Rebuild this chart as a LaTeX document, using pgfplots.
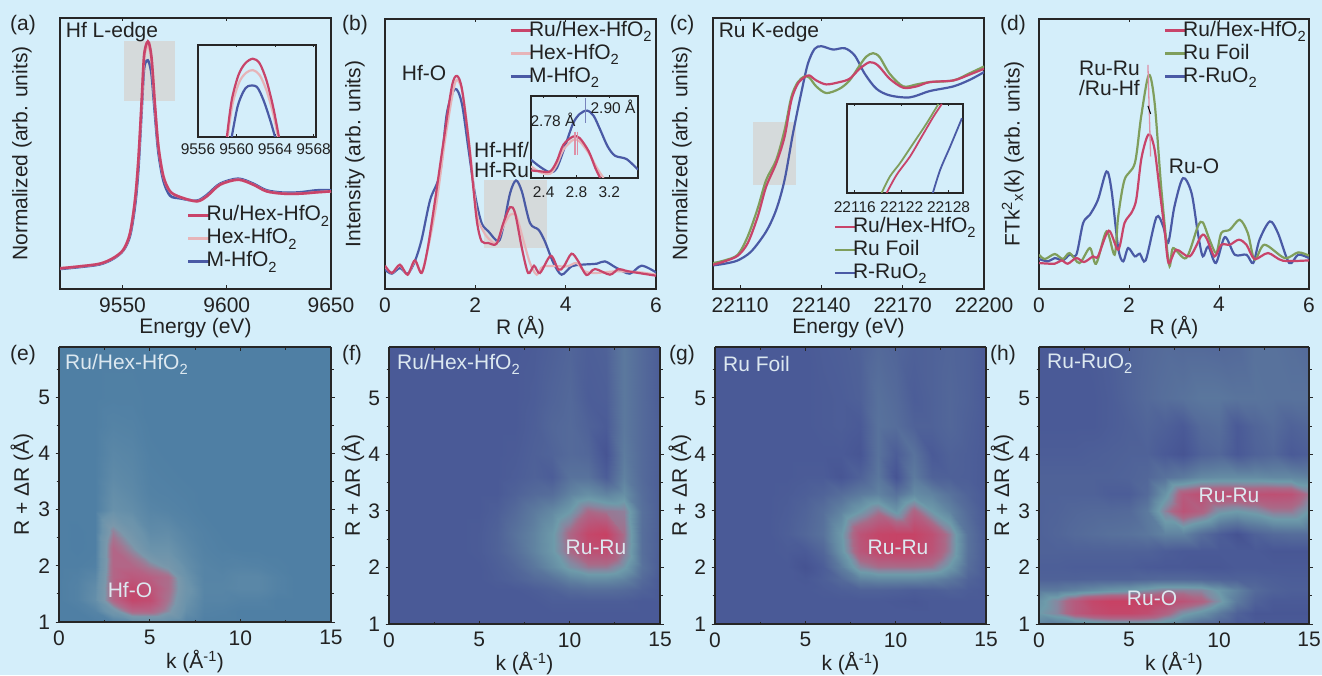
\documentclass[border=0pt]{standalone}
\usepackage{fontspec}
\setmainfont{Liberation Sans}
\usepackage{pgfplots}
\pgfplotsset{compat=1.18}
\definecolor{bg}{HTML}{D4EEFA}
\definecolor{fr}{HTML}{262626}
\definecolor{cred}{HTML}{C8446A}
\definecolor{cpink}{HTML}{E6B4B8}
\definecolor{cblue}{HTML}{4A5AA5}
\definecolor{cgreen}{HTML}{7F9E5C}
\definecolor{gbox}{HTML}{D5DADB}
\definecolor{txt}{HTML}{222222}
\definecolor{lt}{HTML}{DCE8F0}
\newcommand\fa{\fontsize{21}{24}\selectfont}
\newcommand\fb{\fontsize{15.5}{18}\selectfont}
\newcommand\sub[1]{\raisebox{-2pt}{\textsubscript{#1}}}
\pgfplotsset{
  colormap={hb}{rgb255(0)=(65,76,141) rgb255(1)=(74,90,151) rgb255(2)=(84,106,154) rgb255(3)=(92,122,158) rgb255(4)=(101,140,164) rgb255(5)=(110,155,170) rgb255(6)=(135,135,160) rgb255(7)=(170,105,135) rgb255(8)=(182,90,125) rgb255(10)=(200,65,100)},
  colormap={he}{rgb255(0)=(74,123,162) rgb255(1)=(79,127,164) rgb255(3)=(107,147,171) rgb255(5)=(122,152,171) rgb255(6.5)=(165,116,144) rgb255(8)=(184,95,130) rgb255(10)=(195,71,108)},
}
\pgfplotsset{
  allax/.style={scale only axis,enlargelimits=false,
    axis line style={line width=2.2pt,color=fr},
    tick style={line width=1pt,color=fr},
    major tick length=3.5pt,minor tick length=2.5pt,
    /pgf/number format/assume math mode=true,
    /pgf/number format/1000 sep={},
    scaled x ticks=false,scaled y ticks=false,
    tick label style={font=\fa,color=txt},
    label style={font=\fa,color=txt}},
  lineax/.style={allax,ymin=0,ytick=\empty,xtick align=inside,
    xticklabel style={yshift=-5pt},
    xlabel style={at={(axis description cs:0.5,0)},anchor=center,yshift=-39pt},
    legend cell align=left,reverse legend,
    legend image code/.code={\begin{pgfinterruptboundingbox}\draw[##1,line width=2.2pt] (4pt,0) -- (25pt,0);\end{pgfinterruptboundingbox}\path (0,0) (21pt,0);},
    legend style={draw=none,fill=none,font=\fa,text=txt,anchor=north west,inner sep=0pt,outer sep=0pt,
      nodes={inner sep=0pt,text height=17pt,text depth=6pt}}},
  inset/.style={allax,ymin=0,ytick=\empty,xtick align=inside,axis background/.style={fill=bg},
    tick label style={font=\fb,color=txt},major tick length=2.5pt,
    axis line style={line width=1.8pt,color=fr}},
  c1/.style={color=cred,line width=2.2pt,smooth},
  c2/.style={color=cpink,line width=2.2pt,smooth},
  c3/.style={color=cblue,line width=2.2pt,smooth},
  c4/.style={color=cgreen,line width=2.2pt,smooth},
  heat/.style={allax,view={0}{90},axis on top,xmin=0,xmax=15,ymin=1,ymax=5.9,
    xtick={0,5,10,15},ytick={1,2,3,4,5},minor xtick={2.5,7.5,12.5},minor ytick={1.5,2.5,3.5,4.5,5.5},
    xtick align=inside,ytick align=outside,
    xticklabel style={yshift=-5pt},yticklabel style={xshift=-2pt},
    xlabel={k (Å\textsuperscript{-1})},ylabel={R + ΔR (Å)},
    xlabel style={at={(axis description cs:0.5,0)},anchor=center,yshift=-40pt},
    point meta min=0,point meta max=10},
}
\newcommand\lbl[4][center]{\node[anchor=#1,inner sep=0pt,font=\fa,text=txt] at (#2pt,675pt-#3pt) {#4};}
\newcommand\lbs[3]{\node[anchor=center,inner sep=0pt,font=\fb,text=txt] at (#1pt,675pt-#2pt) {#3};}
\newcommand\lbw[4][center]{\node[anchor=#1,inner sep=0pt,font=\fa,text=lt] at (#2pt,675pt-#3pt) {#4};}
\begin{document}
\begin{tikzpicture}
\useasboundingbox (0,0) rectangle (1322pt,675pt);
\fill[bg] (0,0) rectangle (1322pt,675pt);

% (a)
\begin{axis}[lineax,at={(60pt,386pt)},anchor=south west,width=271pt,height=271pt,
  xmin=9520,xmax=9650,ymax=813,xtick={9550,9600,9650},xlabel={Energy (eV)},ylabel={Normalized (arb. units)},
  ylabel style={at={(axis description cs:0,0.5)},anchor=center,yshift=38pt},
  legend style={at={(axis description cs:0.454,0.314)}}]
\fill[gbox] (axis cs:9550.9,565) rectangle (axis cs:9575.2,745);
\addplot[c3,line width=2.6pt] coordinates {(9520,60)(9529.6,66)(9539.2,74)(9545.6,91)(9550.4,116)(9553.6,160)(9556,250)(9557.6,360)(9559.2,540)(9560.3,660)(9561.6,685)(9562.7,680)(9564,640)(9565.6,520)(9567.2,410)(9569.6,325)(9572.8,280)(9577.6,272)(9585.6,265)(9590.4,282)(9596.8,316)(9605.5,331)(9612.7,316)(9619.1,296)(9627.1,289)(9635.1,290)(9643.1,296)(9650,296)};
\addlegendentry{M-HfO\sub{2}}
\addplot[c2,line width=2.6pt] coordinates {(9520,62)(9529.6,68)(9539.2,76)(9545.6,93)(9550.4,118)(9553.6,168)(9556,268)(9557.6,388)(9559.2,560)(9560.3,690)(9561.6,725)(9562.7,725)(9564,680)(9565.6,545)(9567.2,428)(9569.6,338)(9572.8,293)(9577.6,276)(9585.6,263)(9590.4,278)(9596.8,313)(9605.5,328)(9612.7,313)(9619.1,293)(9627.1,286)(9635.1,286)(9643.1,290)(9650,293)};
\addlegendentry{Hex-HfO\sub{2}}
\addplot[c1,line width=2.6pt] coordinates {(9520,62)(9529.6,68)(9539.2,76)(9545.6,93)(9550.4,118)(9553.6,168)(9556,268)(9557.6,388)(9559.2,568)(9560.3,698)(9561.6,738)(9562.7,738)(9564,688)(9565.6,548)(9567.2,428)(9569.6,338)(9572.8,293)(9577.6,276)(9585.6,263)(9590.4,278)(9596.8,313)(9605.5,328)(9612.7,313)(9619.1,293)(9627.1,286)(9635.1,286)(9643.1,290)(9650,293)};
\addlegendentry{Ru/Hex-HfO\sub{2}}
\end{axis}
\begin{axis}[inset,at={(198pt,538pt)},anchor=south west,width=118pt,height=92pt,
  xmin=9556,xmax=9568.25,ymax=275,xtick={9556,9560,9564,9568},xticklabel style={yshift=-3pt}]
\addplot[c2] coordinates {(9559.08,0)(9559.6,100)(9560.3,165)(9561,192)(9561.7,200)(9562.4,185)(9563.1,140)(9563.8,70)(9564.3,0)};
\addplot[c3] coordinates {(9559.5,0)(9560.1,90)(9560.7,135)(9561.2,152)(9562.1,150)(9562.8,110)(9563.5,50)(9564,0)};
\addplot[c1] coordinates {(9559,0)(9559.5,110)(9560.2,185)(9560.9,220)(9561.7,234)(9562.4,220)(9563.1,170)(9563.8,90)(9564.4,0)};
\end{axis}

% (b)
\begin{axis}[lineax,at={(385pt,386pt)},anchor=south west,width=271pt,height=270pt,
  xmin=0,xmax=6,ymax=811,xtick={0,2,4,6},xlabel={R (Å)},ylabel={Intensity (arb. units)},
  ylabel style={at={(axis description cs:0,0.5)},anchor=center,yshift=30pt},
  legend style={at={(axis description cs:0.446,1.0)}}]
\fill[gbox] (axis cs:2.2,122) rectangle (axis cs:3.58,327);
\addplot[c3] coordinates {(0,58)(.15,46)(.33,63)(.50,46)(.66,83)(.81,148)(1.0,268)(1.22,348)(1.37,528)(1.55,601)(1.70,558)(1.85,418)(2.0,278)(2.14,198)(2.29,173)(2.51,143)(2.62,188)(2.77,288)(2.90,326)(3.03,293)(3.21,198)(3.40,178)(3.54,143)(3.73,78)(3.91,43)(4.13,68)(4.35,73)(4.69,76)(4.87,83)(5.13,63)(5.42,46)(5.68,70)(6,50)};
\addlegendentry{M-HfO\sub{2}}
\addplot[c2] coordinates {(0,68)(.15,48)(.33,71)(.50,43)(.66,83)(.81,50)(.96,128)(1.14,258)(1.33,448)(1.50,588)(1.59,628)(1.72,588)(1.88,418)(2.03,228)(2.18,173)(2.32,148)(2.47,138)(2.62,188)(2.77,223)(2.91,218)(3.06,148)(3.21,78)(3.36,43)(3.51,68)(4.02,68)(4.24,78)(4.42,53)(4.65,48)(5.13,53)(5.65,50)(6,43)};
\addlegendentry{Hex-HfO\sub{2}}
\addplot[c1] coordinates {(0,70)(.15,48)(.33,73)(.50,43)(.66,86)(.81,48)(.94,118)(1.11,268)(1.29,438)(1.48,608)(1.59,640)(1.70,603)(1.85,448)(1.96,298)(2.04,198)(2.14,143)(2.29,138)(2.47,136)(2.62,198)(2.77,246)(2.88,228)(3.03,123)(3.17,48)(3.30,70)(3.43,48)(3.67,100)(3.84,58)(3.96,68)(4.13,106)(4.28,83)(4.46,42)(4.65,60)(4.98,43)(5.17,60)(5.39,53)(6,40)};
\addlegendentry{Ru/Hex-HfO\sub{2}}
\end{axis}
\begin{axis}[inset,at={(531pt,497pt)},anchor=south west,width=107pt,height=82pt,
  xmin=2.246,xmax=3.55,ymax=247,xtick={2.4,2.8,3.2},xticklabels={2.4,2.8,3.2},xticklabel style={yshift=-5pt}]
\addplot[c3] coordinates {(2.246,55)(2.36,33)(2.48,17)(2.56,30)(2.66,95)(2.76,165)(2.84,193)(2.93,203)(3.01,187)(3.09,145)(3.18,95)(3.27,67)(3.41,57)(3.55,25)};
\addplot[c2] coordinates {(2.246,35)(2.36,17)(2.48,13)(2.56,40)(2.64,85)(2.76,115)(2.84,110)(2.95,75)(3.05,30)(3.13,0)};
\addplot[c1] coordinates {(2.246,23)(2.36,20)(2.48,20)(2.56,50)(2.64,100)(2.76,125)(2.84,120)(2.95,80)(3.03,30)(3.09,0)};
\addplot[color=cblue!75,line width=1.4pt] coordinates {(2.91,240)(2.91,165)};
\addplot[color=cred!60,line width=1.4pt] coordinates {(2.78,140)(2.78,70)};
\addplot[color=cred!60,line width=1.4pt] coordinates {(2.81,140)(2.81,70)};
\end{axis}

% (c)
\begin{axis}[lineax,at={(713pt,386pt)},anchor=south west,width=271pt,height=271pt,
  xmin=22100,xmax=22200,ymax=816,xtick={22110,22140,22170,22200},xlabel={Energy (eV)},ylabel={Normalized (arb. units)},
  ylabel style={at={(axis description cs:0,0.5)},anchor=center,yshift=31pt},
  legend style={at={(axis description cs:0.431,0.271)}}]
\fill[gbox] (axis cs:22114.7,313) rectangle (axis cs:22130.7,503);
\addplot[c3] coordinates {(22100,71)(22104.2,76)(22109.1,86)(22114.1,113)(22119.6,173)(22123.3,238)(22126.4,328)(22129.5,468)(22132.5,588)(22135,678)(22137.5,723)(22140,731)(22144.3,721)(22148.6,725)(22152.3,703)(22156,648)(22160.3,603)(22165.2,583)(22172.6,577)(22180,596)(22188.7,610)(22194.8,630)(22200,653)};
\addlegendentry{R-RuO\sub{2}}
\addplot[c4] coordinates {(22100,78)(22104.2,86)(22109.1,103)(22112.8,158)(22116.5,243)(22119.6,328)(22123.3,388)(22126.4,478)(22128.9,578)(22131.3,623)(22133.8,640)(22135.6,636)(22138.1,610)(22141.8,590)(22146.7,603)(22150.4,628)(22154.1,673)(22156.6,700)(22159.1,710)(22161.5,698)(22165.2,648)(22170.2,610)(22175.1,616)(22180,623)(22188.7,628)(22194.8,650)(22200,670)};
\addlegendentry{Ru Foil}
\addplot[c1] coordinates {(22100,73)(22104.2,83)(22109.1,100)(22112.8,138)(22116.5,218)(22119.6,308)(22123.3,378)(22126.4,458)(22128.9,568)(22131.3,618)(22133.8,638)(22135.6,643)(22138.1,628)(22141.8,616)(22146.7,623)(22150.4,633)(22154.1,663)(22157.8,683)(22160.9,673)(22165.2,633)(22170.2,606)(22175.1,610)(22180,623)(22188.7,628)(22194.8,646)(22200,663)};
\addlegendentry{Ru/Hex-HfO\sub{2}}
\end{axis}
\begin{axis}[inset,at={(847pt,482pt)},anchor=south west,width=116pt,height=89pt,
  xmin=22115,xmax=22129.85,ymax=268,xtick={22116,22122,22128},xticklabel style={yshift=-5pt}]
\addplot[c4,line width=1.8pt] coordinates {(22119.43,0)(22120.5,50)(22121.79,90)(22123.5,150)(22125.2,210)(22126.7,268)};
\addplot[c1,line width=1.8pt] coordinates {(22120.07,0)(22121.36,55)(22123.07,110)(22124.57,170)(22126.07,230)(22127.14,268)};
\addplot[c3,line width=1.8pt] coordinates {(22125.99,0)(22126.93,70)(22128.21,140)(22129.71,225)};
\end{axis}

% (d)
\begin{axis}[lineax,at={(1039pt,386pt)},anchor=south west,width=270pt,height=270pt,
  xmin=0,xmax=6,ymax=811,xtick={0,2,4,6},xlabel={R (Å)},ylabel={FTk\textsuperscript{2}\textsubscript{x}(k) (arb. units)},
  ylabel style={at={(axis description cs:0,0.5)},anchor=center,yshift=26pt},
  legend style={at={(axis description cs:0.448,1.0)}}]
\addplot[c3] coordinates {(0,90)(.2,83)(.35,93)(.53,86)(.68,103)(.83,103)(.98,198)(1.13,223)(1.31,268)(1.50,353)(1.61,298)(1.76,123)(1.87,83)(1.98,123)(2.13,98)(2.24,106)(2.37,86)(2.61,216)(2.76,188)(2.87,138)(3.01,248)(3.20,333)(3.39,288)(3.53,168)(3.64,98)(3.76,128)(3.93,78)(4.13,156)(4.35,103)(4.61,103)(4.76,78)(4.90,148)(5.13,203)(5.31,168)(5.56,78)(5.76,103)(6,93)};
\addlegendentry{R-RuO\sub{2}}
\addplot[c4] coordinates {(0,103)(.13,90)(.35,105)(.53,90)(.68,108)(.90,78)(1.13,123)(1.27,76)(1.50,173)(1.68,103)(1.76,218)(1.90,328)(2.13,378)(2.27,518)(2.44,643)(2.57,558)(2.72,298)(2.89,73)(2.98,123)(3.27,93)(3.53,188)(3.64,200)(3.79,148)(3.94,108)(4.05,168)(4.24,178)(4.46,208)(4.64,168)(4.79,88)(5.01,133)(5.46,93)(5.76,110)(6,100)};
\addlegendentry{Ru Foil}
\addplot[c1] coordinates {(0,78)(.35,76)(.50,86)(.64,76)(.83,93)(1.0,81)(1.2,98)(1.31,98)(1.55,175)(1.76,118)(1.90,198)(2.05,228)(2.16,268)(2.27,388)(2.39,453)(2.47,463)(2.57,418)(2.68,298)(2.79,178)(2.88,78)(3.05,118)(3.35,98)(3.61,160)(3.72,153)(3.90,98)(4.05,133)(4.24,133)(4.44,148)(4.61,133)(4.79,90)(5.09,108)(5.42,85)(6,86)};
\addlegendentry{Ru/Hex-HfO\sub{2}}
\addplot[color=cred!60,line width=1.3pt,forget plot] coordinates {(2.42,673)(2.48,398)};
\addplot[color=black,line width=1pt,forget plot] coordinates {(2.42,550)(2.48,526)};
\end{axis}

% (e)
\begin{axis}[heat,colormap name=he,at={(59pt,53pt)},anchor=south west,width=272pt,height=275pt,
  ylabel style={at={(axis description cs:0,0.5)},anchor=center,yshift=37pt}]
\addplot3[surf,shader=interp,mesh/cols=16] coordinates {
(0,1,1)(1,1,1)(2,1,1)(3,1,1.2)(4,1,2)(5,1,2.3)(6,1,2)(7,1,1.5)(8,1,1)(9,1,1)(10,1,1)(11,1,1)(12,1,1)(13,1,1)(14,1,1)(15,1,1)
(0,1.2,1)(1,1.2,1)(2,1.2,1.5)(3,1.2,4)(4,1.2,7.5)(5,1.2,7.5)(6,1.2,5.5)(7,1.2,2.5)(8,1.2,1.3)(9,1.2,1.2)(10,1.2,1)(11,1.2,1)(12,1.2,1)(13,1.2,1)(14,1.2,1)(15,1.2,1)
(0,1.4,1)(1,1.4,1.3)(2,1.4,2.5)(3,1.4,7.5)(4,1.4,10)(5,1.4,9.5)(6,1.4,6.5)(7,1.4,3)(8,1.4,1.5)(9,1.4,1.5)(10,1.4,1.3)(11,1.4,1.3)(12,1.4,1)(13,1.4,1)(14,1.4,1)(15,1.4,1)
(0,1.6,1)(1,1.6,1.3)(2,1.6,2.3)(3,1.6,7.5)(4,1.6,9.8)(5,1.6,9)(6,1.6,7)(7,1.6,3.5)(8,1.6,1.6)(9,1.6,1.6)(10,1.6,1.8)(11,1.6,1.8)(12,1.6,1.3)(13,1.6,1)(14,1.6,1)(15,1.6,1)
(0,1.8,1)(1,1.8,1.2)(2,1.8,1.8)(3,1.8,7.5)(4,1.8,8.5)(5,1.8,8)(6,1.8,7)(7,1.8,3)(8,1.8,1.5)(9,1.8,1.5)(10,1.8,1.8)(11,1.8,1.8)(12,1.8,1.3)(13,1.8,1)(14,1.8,1)(15,1.8,1)
(0,2,1)(1,2,1)(2,2,1.2)(3,2,7.5)(4,2,7.5)(5,2,6)(6,2,4.5)(7,2,2.5)(8,2,1.5)(9,2,1.3)(10,2,1.4)(11,2,1.3)(12,2,1.1)(13,2,1)(14,2,1)(15,2,1)
(0,2.3,1)(1,2.3,.8)(2,2.3,1)(3,2.3,7.5)(4,2.3,5.5)(5,2.3,3)(6,2.3,3)(7,2.3,2)(8,2.3,1.3)(9,2.3,1.1)(10,2.3,1)(11,2.3,1)(12,2.3,1)(13,2.3,1)(14,2.3,1)(15,2.3,1)
(0,2.6,1)(1,2.6,.8)(2,2.6,1)(3,2.6,6)(4,2.6,3.8)(5,2.6,2.2)(6,2.6,2.3)(7,2.6,1.6)(8,2.6,1.2)(9,2.6,1)(10,2.6,1)(11,2.6,1)(12,2.6,1)(13,2.6,1)(14,2.6,1)(15,2.6,1)
(0,3,1)(1,3,1)(2,3,1)(3,3,2.8)(4,3,2.4)(5,3,1.6)(6,3,1.4)(7,3,1.2)(8,3,1)(9,3,1)(10,3,1)(11,3,1)(12,3,1)(13,3,1)(14,3,1)(15,3,1)
(0,3.3,1)(1,3.3,1)(2,3.3,1)(3,3.3,2.5)(4,3.3,2)(5,3.3,1.3)(6,3.3,1.2)(7,3.3,1.1)(8,3.3,1)(9,3.3,1)(10,3.3,1)(11,3.3,1)(12,3.3,1)(13,3.3,1)(14,3.3,1)(15,3.3,1)
(0,3.6,1)(1,3.6,1)(2,3.6,1)(3,3.6,2.1)(4,3.6,1.8)(5,3.6,1.2)(6,3.6,1.1)(7,3.6,1)(8,3.6,1)(9,3.6,1)(10,3.6,1)(11,3.6,1)(12,3.6,1)(13,3.6,1)(14,3.6,1)(15,3.6,1)
(0,4,1)(1,4,1)(2,4,1)(3,4,1.8)(4,4,1.6)(5,4,1.1)(6,4,1)(7,4,1)(8,4,1)(9,4,1)(10,4,1)(11,4,1)(12,4,1)(13,4,1)(14,4,1)(15,4,1)
(0,4.5,1)(1,4.5,1)(2,4.5,1)(3,4.5,1.4)(4,4.5,1.3)(5,4.5,1)(6,4.5,1)(7,4.5,1)(8,4.5,1)(9,4.5,1)(10,4.5,1)(11,4.5,1)(12,4.5,1)(13,4.5,1)(14,4.5,1)(15,4.5,1)
(0,5,1)(1,5,1)(2,5,1)(3,5,1.1)(4,5,1.1)(5,5,1)(6,5,1)(7,5,1)(8,5,1)(9,5,1)(10,5,1)(11,5,1)(12,5,1)(13,5,1)(14,5,1)(15,5,1)
(0,5.9,1)(1,5.9,1)(2,5.9,1)(3,5.9,1)(4,5.9,1)(5,5.9,1)(6,5.9,1)(7,5.9,1)(8,5.9,1)(9,5.9,1)(10,5.9,1)(11,5.9,1)(12,5.9,1)(13,5.9,1)(14,5.9,1)(15,5.9,1)
};
\end{axis}

% (f)
\begin{axis}[heat,colormap name=hb,at={(389pt,51pt)},anchor=south west,width=271pt,height=277pt,
  ylabel style={at={(axis description cs:0,0.5)},anchor=center,yshift=36pt}]
\addplot3[surf,shader=interp,mesh/cols=16] coordinates {
(0,1,1)(1,1,1)(2,1,1)(3,1,1)(4,1,1)(5,1,1)(6,1,1)(7,1,1)(8,1,1)(9,1,1)(10,1,1)(11,1,1)(12,1,1)(13,1,1)(14,1,1)(15,1,1)
(0,1.2,1)(1,1.2,1)(2,1.2,1)(3,1.2,1)(4,1.2,1)(5,1.2,1)(6,1.2,1)(7,1.2,1)(8,1.2,1)(9,1.2,1)(10,1.2,1)(11,1.2,1)(12,1.2,1)(13,1.2,1)(14,1.2,1)(15,1.2,1)
(0,1.4,1)(1,1.4,1)(2,1.4,1)(3,1.4,1)(4,1.4,1)(5,1.4,1)(6,1.4,1)(7,1.4,1)(8,1.4,1)(9,1.4,1.2)(10,1.4,1.2)(11,1.4,1.2)(12,1.4,1.2)(13,1.4,1.2)(14,1.4,1)(15,1.4,1)
(0,1.6,1)(1,1.6,1)(2,1.6,1)(3,1.6,1)(4,1.6,1)(5,1.6,1)(6,1.6,1)(7,1.6,1)(8,1.6,1.2)(9,1.6,1.5)(10,1.6,2)(11,1.6,2.2)(12,1.6,2.2)(13,1.6,2)(14,1.6,1.5)(15,1.6,1)
(0,1.8,1)(1,1.8,1)(2,1.8,1)(3,1.8,1)(4,1.8,1)(5,1.8,1)(6,1.8,1.2)(7,1.8,1.5)(8,1.8,2)(9,1.8,2.5)(10,1.8,3.5)(11,1.8,4)(12,1.8,4)(13,1.8,3.5)(14,1.8,2)(15,1.8,1)
(0,2,1)(1,2,1)(2,2,1)(3,2,1)(4,2,1)(5,2,1)(6,2,1.3)(7,2,1.8)(8,2,2.8)(9,2,4)(10,2,5.5)(11,2,6.5)(12,2,6.5)(13,2,5.2)(14,2,2.5)(15,2,1.2)
(0,2.3,1)(1,2.3,1)(2,2.3,1)(3,2.3,1)(4,2.3,1)(5,2.3,1.1)(6,2.3,1.5)(7,2.3,2.3)(8,2.3,3.5)(9,2.3,4.8)(10,2.3,7)(11,2.3,8.8)(12,2.3,9)(13,2.3,6.5)(14,2.3,2.3)(15,2.3,1.3)
(0,2.6,1)(1,2.6,1)(2,2.6,1)(3,2.6,1)(4,2.6,1)(5,2.6,1.1)(6,2.6,1.5)(7,2.6,2.5)(8,2.6,3.5)(9,2.6,4.8)(10,2.6,7.2)(11,2.6,9.5)(12,2.6,10)(13,2.6,6.8)(14,2.6,2.3)(15,2.6,1.3)
(0,3,1)(1,3,1)(2,3,1)(3,3,1)(4,3,1)(5,3,1)(6,3,1.3)(7,3,2)(8,3,3)(9,3,3.8)(10,3,5)(11,3,7)(12,3,6.5)(13,3,6.2)(14,3,2.4)(15,3,1.3)
(0,3.3,1)(1,3.3,1)(2,3.3,1)(3,3.3,1)(4,3.3,1)(5,3.3,1)(6,3.3,1)(7,3.3,1.5)(8,3.3,2)(9,3.3,2.2)(10,3.3,3.5)(11,3.3,4.2)(12,3.3,3.5)(13,3.3,4.2)(14,3.3,2.2)(15,3.3,1.3)
(0,3.6,1)(1,3.6,1)(2,3.6,1)(3,3.6,1)(4,3.6,1)(5,3.6,1)(6,3.6,1)(7,3.6,1.2)(8,3.6,1.5)(9,3.6,1.2)(10,3.6,2.5)(11,3.6,2.5)(12,3.6,1.2)(13,3.6,3.4)(14,3.6,2)(15,3.6,1.3)
(0,4,1)(1,4,1)(2,4,1)(3,4,1)(4,4,1)(5,4,1)(6,4,1)(7,4,1.1)(8,4,1.4)(9,4,1.6)(10,4,2)(11,4,1.8)(12,4,.6)(13,4,3.1)(14,4,2)(15,4,1.3)
(0,4.5,1)(1,4.5,1)(2,4.5,1)(3,4.5,1)(4,4.5,1)(5,4.5,1)(6,4.5,1)(7,4.5,1)(8,4.5,1.3)(9,4.5,1.8)(10,4.5,2)(11,4.5,1.5)(12,4.5,1.1)(13,4.5,2.9)(14,4.5,2)(15,4.5,1.3)
(0,5,1)(1,5,1)(2,5,1)(3,5,1)(4,5,1)(5,5,1)(6,5,1)(7,5,1)(8,5,1.2)(9,5,1.6)(10,5,1.9)(11,5,1.2)(12,5,1.3)(13,5,2.9)(14,5,2)(15,5,1.2)
(0,5.9,1)(1,5.9,1)(2,5.9,1)(3,5.9,1)(4,5.9,1)(5,5.9,1)(6,5.9,1)(7,5.9,1)(8,5.9,1.1)(9,5.9,1.4)(10,5.9,1.7)(11,5.9,1.3)(12,5.9,1.5)(13,5.9,2.9)(14,5.9,2)(15,5.9,1.2)
};
\end{axis}

% (g)
\begin{axis}[heat,colormap name=hb,at={(715pt,51pt)},anchor=south west,width=271pt,height=277pt,
  ylabel style={at={(axis description cs:0,0.5)},anchor=center,yshift=35pt}]
\addplot3[surf,shader=interp,mesh/cols=16] coordinates {
(0,1,1)(1,1,1)(2,1,1)(3,1,1)(4,1,1)(5,1,1)(6,1,1)(7,1,1)(8,1,1)(9,1,1)(10,1,1)(11,1,1)(12,1,1)(13,1,1)(14,1,1)(15,1,1)
(0,1.2,1)(1,1.2,1)(2,1.2,1)(3,1.2,1)(4,1.2,1)(5,1.2,1)(6,1.2,1)(7,1.2,1)(8,1.2,1)(9,1.2,1)(10,1.2,1)(11,1.2,1)(12,1.2,1)(13,1.2,1)(14,1.2,1)(15,1.2,1)
(0,1.4,1)(1,1.4,1)(2,1.4,1)(3,1.4,1)(4,1.4,1)(5,1.4,1)(6,1.4,1)(7,1.4,1)(8,1.4,1)(9,1.4,1)(10,1.4,.9)(11,1.4,.8)(12,1.4,1)(13,1.4,1)(14,1.4,1)(15,1.4,1)
(0,1.6,1)(1,1.6,1)(2,1.6,1)(3,1.6,1)(4,1.6,1)(5,1.6,1)(6,1.6,1.1)(7,1.6,1.3)(8,1.6,1.5)(9,1.6,1.5)(10,1.6,1.4)(11,1.6,1.2)(12,1.6,1.3)(13,1.6,1.5)(14,1.6,1.2)(15,1.6,1)
(0,1.8,1)(1,1.8,1)(2,1.8,1)(3,1.8,1)(4,1.8,1)(5,1.8,.9)(6,1.8,1.3)(7,1.8,2)(8,1.8,3.5)(9,1.8,3.8)(10,1.8,3.8)(11,1.8,3.8)(12,1.8,3.5)(13,1.8,2.8)(14,1.8,1.6)(15,1.8,1)
(0,2,1)(1,2,1)(2,2,1)(3,2,1)(4,2,1)(5,2,.5)(6,2,1.2)(7,2,3.2)(8,2,6)(9,2,6.8)(10,2,6.8)(11,2,6.8)(12,2,6.5)(13,2,4.8)(14,2,2.2)(15,2,1)
(0,2.3,1)(1,2.3,1)(2,2.3,1)(3,2.3,1)(4,2.3,1.1)(5,2.3,1)(6,2.3,1.8)(7,2.3,4.5)(8,2.3,8.2)(9,2.3,9.5)(10,2.3,9.8)(11,2.3,9.5)(12,2.3,8.5)(13,2.3,6.2)(14,2.3,2.5)(15,2.3,1.1)
(0,2.6,1)(1,2.6,1)(2,2.6,1)(3,2.6,1)(4,2.6,1.3)(5,2.6,1.8)(6,2.6,2.5)(7,2.6,4.8)(8,2.6,8.5)(9,2.6,9.6)(10,2.6,9.8)(11,2.6,9.8)(12,2.6,8.8)(13,2.6,6.3)(14,2.6,2.5)(15,2.6,1.1)
(0,3,1)(1,3,1)(2,3,1)(3,3,1)(4,3,1.2)(5,3,1.6)(6,3,2.3)(7,3,3.5)(8,3,5)(9,3,6.5)(10,3,4.6)(11,3,7.3)(12,3,5)(13,3,3.5)(14,3,2)(15,3,1)
(0,3.3,1)(1,3.3,1)(2,3.3,1)(3,3.3,1)(4,3.3,1.1)(5,3.3,1.3)(6,3.3,1.6)(7,3.3,2.2)(8,3.3,3)(9,3.3,3.5)(10,3.3,2.5)(11,3.3,4)(12,3.3,3.5)(13,3.3,2.5)(14,3.3,1.6)(15,3.3,1)
(0,3.6,1)(1,3.6,1)(2,3.6,1)(3,3.6,1)(4,3.6,1)(5,3.6,1.1)(6,3.6,1.1)(7,3.6,.7)(8,3.6,1.5)(9,3.6,2.8)(10,3.6,.6)(11,3.6,3)(12,3.6,1.5)(13,3.6,1.4)(14,3.6,1.3)(15,3.6,1)
(0,4,1)(1,4,1)(2,4,1)(3,4,1)(4,4,1)(5,4,1)(6,4,1)(7,4,1)(8,4,.7)(9,4,2.5)(10,4,1.2)(11,4,2.5)(12,4,1)(13,4,1.5)(14,4,1.3)(15,4,1)
(0,4.5,1)(1,4.5,1)(2,4.5,1)(3,4.5,1)(4,4.5,1)(5,4.5,1)(6,4.5,1.1)(7,4.5,1.2)(8,4.5,1)(9,4.5,2.5)(10,4.5,2.2)(11,4.5,1.5)(12,4.5,1.5)(13,4.5,1.8)(14,4.5,1.4)(15,4.5,1)
(0,5,1)(1,5,1)(2,5,1)(3,5,1)(4,5,1)(5,5,1)(6,5,1.1)(7,5,1.2)(8,5,1.4)(9,5,2.4)(10,5,2)(11,5,1.2)(12,5,1.5)(13,5,1.8)(14,5,1.5)(15,5,1)
(0,5.9,1)(1,5.9,1)(2,5.9,1)(3,5.9,1)(4,5.9,1)(5,5.9,1)(6,5.9,1.2)(7,5.9,1.3)(8,5.9,1.5)(9,5.9,2)(10,5.9,1.7)(11,5.9,1.4)(12,5.9,1.5)(13,5.9,1.7)(14,5.9,1.5)(15,5.9,1)
};
\end{axis}

% (h)
\begin{axis}[heat,colormap name=hb,at={(1039pt,51pt)},anchor=south west,width=270pt,height=277pt,
  ylabel style={at={(axis description cs:0,0.5)},anchor=center,yshift=37pt}]
\addplot3[surf,shader=interp,mesh/cols=16] coordinates {
(0,1,3.5)(1,1,3)(2,1,3.5)(3,1,4)(4,1,4.5)(5,1,4.5)(6,1,4.5)(7,1,4)(8,1,3)(9,1,2)(10,1,1.5)(11,1,1)(12,1,1)(13,1,1)(14,1,1)(15,1,1)
(0,1.2,5)(1,1.2,6)(2,1.2,8)(3,1.2,9)(4,1.2,9.5)(5,1.2,9.5)(6,1.2,9)(7,1.2,7.5)(8,1.2,5.5)(9,1.2,4.5)(10,1.2,3)(11,1.2,1.5)(12,1.2,.8)(13,1.2,.8)(14,1.2,.8)(15,1.2,.8)
(0,1.4,4.5)(1,1.4,6)(2,1.4,8)(3,1.4,9.5)(4,1.4,10)(5,1.4,10)(6,1.4,10)(7,1.4,9.5)(8,1.4,8.5)(9,1.4,7.5)(10,1.4,5.5)(11,1.4,3)(12,1.4,1.5)(13,1.4,1)(14,1.4,1)(15,1.4,1)
(0,1.6,3)(1,1.6,3)(2,1.6,3.5)(3,1.6,4)(4,1.6,4.5)(5,1.6,4.8)(6,1.6,5.5)(7,1.6,6.2)(8,1.6,6.2)(9,1.6,6)(10,1.6,4.8)(11,1.6,3.5)(12,1.6,2)(13,1.6,1.5)(14,1.6,1.3)(15,1.6,1.3)
(0,1.8,1.5)(1,1.8,1.5)(2,1.8,1.5)(3,1.8,1.6)(4,1.8,1.6)(5,1.8,1.6)(6,1.8,1.8)(7,1.8,1.9)(8,1.8,1.9)(9,1.8,1.8)(10,1.8,1.6)(11,1.8,1.5)(12,1.8,1.5)(13,1.8,1.3)(14,1.8,1.2)(15,1.8,1.2)
(0,2,1.3)(1,2,1.3)(2,2,1.2)(3,2,1.2)(4,2,1.2)(5,2,1.2)(6,2,1)(7,2,.9)(8,2,.9)(9,2,.8)(10,2,.8)(11,2,1)(12,2,1)(13,2,1)(14,2,1)(15,2,1)
(0,2.3,1.5)(1,2.3,1.5)(2,2.3,1.5)(3,2.3,1.5)(4,2.3,1.5)(5,2.3,1.5)(6,2.3,1.5)(7,2.3,1.2)(8,2.3,1)(9,2.3,1)(10,2.3,1)(11,2.3,1)(12,2.3,1)(13,2.3,.8)(14,2.3,.8)(15,2.3,.8)
(0,2.6,1.5)(1,2.6,1.7)(2,2.6,2)(3,2.6,2.2)(4,2.6,2.4)(5,2.6,2.5)(6,2.6,2.8)(7,2.6,3.5)(8,2.6,3.5)(9,2.6,2.2)(10,2.6,1.2)(11,2.6,.5)(12,2.6,1.5)(13,2.6,2)(14,2.6,2.2)(15,2.6,2.2)
(0,3,1.5)(1,3,1.6)(2,3,1.8)(3,3,1.9)(4,3,1.9)(5,3,2)(6,3,3)(7,3,6.2)(8,3,8.5)(9,3,7.5)(10,3,5.5)(11,3,5)(12,3,5.5)(13,3,6.5)(14,3,6.5)(15,3,5)
(0,3.3,1.5)(1,3.3,1.5)(2,3.3,1.5)(3,3.3,1.5)(4,3.3,1.2)(5,3.3,1.2)(6,3.3,2)(7,3.3,4.5)(8,3.3,8)(9,3.3,8.8)(10,3.3,8.8)(11,3.3,8.8)(12,3.3,8.6)(13,3.3,8.8)(14,3.3,8.6)(15,3.3,6.5)
(0,3.6,1.5)(1,3.6,1.5)(2,3.6,1.5)(3,3.6,1.5)(4,3.6,1.5)(5,3.6,1.6)(6,3.6,1.8)(7,3.6,2.5)(8,3.6,3)(9,3.6,3.8)(10,3.6,4)(11,3.6,4)(12,3.6,4)(13,3.6,3.8)(14,3.6,3.8)(15,3.6,3.5)
(0,4,1.2)(1,4,1.2)(2,4,1.2)(3,4,1.3)(4,4,1.4)(5,4,1.5)(6,4,1.5)(7,4,1)(8,4,.6)(9,4,1.5)(10,4,1.8)(11,4,.9)(12,4,1.5)(13,4,1.8)(14,4,1)(15,4,1.3)
(0,4.5,1)(1,4.5,1)(2,4.5,1)(3,4.5,1)(4,4.5,1.2)(5,4.5,1.4)(6,4.5,1.7)(7,4.5,1.4)(8,4.5,1)(9,4.5,2)(10,4.5,2.2)(11,4.5,1)(12,4.5,1.7)(13,4.5,2.1)(14,4.5,1.5)(15,4.5,1.8)
(0,5,1)(1,5,1)(2,5,1)(3,5,1)(4,5,1.2)(5,5,1.6)(6,5,2)(7,5,2.3)(8,5,2.5)(9,5,2.8)(10,5,2.8)(11,5,2.6)(12,5,2.6)(13,5,2.5)(14,5,2.5)(15,5,2.5)
(0,5.9,1)(1,5.9,1)(2,5.9,1)(3,5.9,1.1)(4,5.9,1.3)(5,5.9,1.6)(6,5.9,1.9)(7,5.9,2.1)(8,5.9,2)(9,5.9,2)(10,5.9,1.9)(11,5.9,2)(12,5.9,2.5)(13,5.9,2.5)(14,5.9,2.3)(15,5.9,2)
};
\end{axis}

% panel letters and annotations
\lbl{23}{25}{(a)}\lbl{355}{25}{(b)}\lbl{682}{25}{(c)}\lbl{1013}{25}{(d)}
\lbl{23}{355}{(e)}\lbl{352}{355}{(f)}\lbl{682}{355}{(g)}\lbl{1003}{355}{(h)}
\lbl{112}{32}{Hf L-edge}
\lbl{424}{73}{Hf-O}
\lbl[west]{474}{150}{Hf-Hf/}
\lbl[west]{474}{170}{Hf-Ru}
\lbl{769}{32}{Ru K-edge}
\lbl[east]{1140}{68}{Ru-Ru}
\lbl[east]{1140}{88}{/Ru-Hf}
\lbl{1194}{166}{Ru-O}
\lbs{553}{120}{2.78 Å}
\lbs{613}{107}{2.90 Å}
\lbw[west]{65}{364}{Ru/Hex-HfO\sub{2}}
\lbw{130}{590}{Hf-O}
\lbw[west]{397}{364}{Ru/Hex-HfO\sub{2}}
\lbw{596}{547}{Ru-Ru}
\lbw[west]{723}{364}{Ru Foil}
\lbw{898}{547}{Ru-Ru}
\lbw[west]{1047}{364}{Ru-RuO\sub{2}}
\lbw{1229}{495}{Ru-Ru}
\lbw{1152}{598}{Ru-O}
\end{tikzpicture}
\end{document}
